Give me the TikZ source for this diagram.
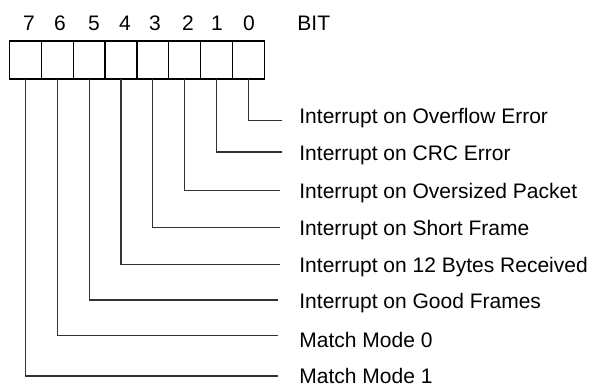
\documentclass[tikz,border=0pt]{standalone}
\usepackage{fontspec}
\setmainfont{Liberation Sans}
\begin{document}
\begin{tikzpicture}[x=0.5pt,y=-0.5pt,
  bitbox/.style={draw,line width=0.65pt,minimum width=15.9pt,minimum height=19pt,inner sep=0pt,outer sep=0pt},
  lbl/.style={anchor=west,inner sep=0pt,font=\fontsize{10.5}{12}\selectfont},
  num/.style={inner sep=0pt,font=\fontsize{10.5}{12}\selectfont},
  wire/.style={line width=0.55pt,black!80}]
\useasboundingbox (0,0) rectangle (592,385);
% bit boxes
\foreach \i/\x in {7/25.4,6/57.3,5/89.1,4/121,3/152.8,2/184.6,1/216.5,0/248.3}{
  \node[bitbox] (b\i) at (\x,60) {};
}
% bit numbers
\foreach \i/\x in {7/29,6/60,5/94,4/125,3/155,2/188,1/217,0/249}{
  \node[num] (n\i) at (\x,23) {\i};
}
\node[lbl] (bit) at (297,23) {BIT};
% labels
\node[lbl] (l0) at (299,118) {Interrupt on Overflow Error};
\node[lbl] (l1) at (299,155) {Interrupt on CRC Error};
\node[lbl] (l2) at (299,193) {Interrupt on Oversized Packet};
\node[lbl] (l3) at (299,230) {Interrupt on Short Frame};
\node[lbl] (l4) at (299,267) {Interrupt on 12 Bytes Received};
\node[lbl] (l5) at (299,303) {Interrupt on Good Frames};
\node[lbl] (l6) at (299,340) {Match Mode 0};
\node[lbl] (l7) at (299,376) {Match Mode 1};
% line ends
\coordinate (e0) at (281.7,120.3);
\coordinate (e1) at (281.7,152);
\coordinate (e2) at (280,190.7);
\coordinate (e3) at (280,227.7);
\coordinate (e4) at (280,264.7);
\coordinate (e5) at (278,300);
\coordinate (e6) at (278,335.3);
\coordinate (e7) at (278,376);
\foreach \i in {0,...,7}{
  \draw[wire] (b\i.south) |- (e\i);
}
\end{tikzpicture}
\end{document}
